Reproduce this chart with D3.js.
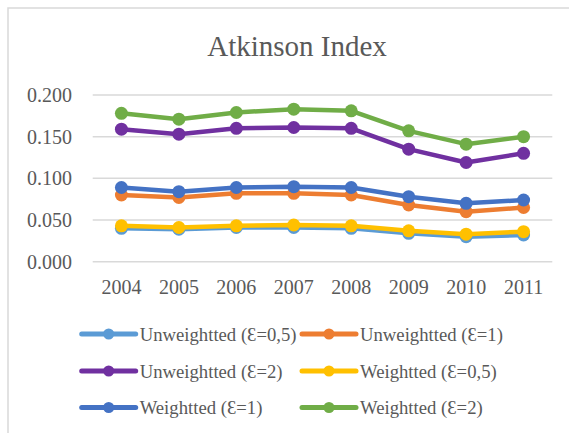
<!DOCTYPE html>
<html>
<head>
<meta charset="utf-8">
<script src="https://cdn.jsdelivr.net/npm/d3@7"></script>
</head>
<body style="margin:0;background:#fff">
<div id="chart"></div>
<script>
// Data
const years = ['2004', '2005', '2006', '2007', '2008', '2009', '2010', '2011'];
const seriesNames = [
  'Unweightted (Ɛ=0,5)', 'Unweightted (Ɛ=1)', 'Unweightted (Ɛ=2)',
  'Weightted (Ɛ=0,5)', 'Weightted (Ɛ=1)', 'Weightted (Ɛ=2)'
];
const unw05 = [0.040, 0.039, 0.041, 0.041, 0.040, 0.034, 0.030, 0.032];
const unw1  = [0.080, 0.077, 0.082, 0.082, 0.080, 0.068, 0.060, 0.065];
const unw2  = [0.159, 0.153, 0.160, 0.161, 0.160, 0.135, 0.119, 0.130];
const w05   = [0.043, 0.041, 0.043, 0.044, 0.043, 0.037, 0.033, 0.036];
const w1    = [0.089, 0.084, 0.089, 0.090, 0.089, 0.078, 0.070, 0.074];
const w2    = [0.178, 0.171, 0.179, 0.183, 0.181, 0.157, 0.141, 0.150];
const yTicks = [0, 0.05, 0.1, 0.15, 0.2];
const colors = ['#5B9BD5', '#ED7D31', '#7030A0', '#FFC000', '#4472C4', '#70AD47'];

const series = [unw05, unw1, unw2, w05, w1, w2].map((v, i) => ({
  name: seriesNames[i], values: v, color: colors[i]
}));

const FONT = '"Liberation Serif"';
const TEXT = '#595959';

const W = 569, H = 433;
const svg = d3.select('#chart').append('svg')
  .attr('width', W).attr('height', H);

// chart area border (runs off the right and bottom)
svg.append('rect')
  .attr('x', 8).attr('y', 8)
  .attr('width', 590).attr('height', 450)
  .attr('fill', 'none').attr('stroke', '#d9d9d9').attr('stroke-width', 1.5);

svg.append('text')
  .attr('x', 297).attr('y', 56)
  .attr('text-anchor', 'middle')
  .style('font-family', FONT)
  .style('font-size', '29px')
  .style('fill', TEXT)
  .text('Atkinson Index');

const x = d3.scaleBand().domain(years).range([92.7, 552.3]);
const y = d3.scaleLinear().domain([0, 0.2]).range([261.7, 95]);

// gridlines
svg.append('g').selectAll('line')
  .data(yTicks).enter().append('line')
  .attr('x1', 92.7).attr('x2', 552.3)
  .attr('y1', d => y(d)).attr('y2', d => y(d))
  .attr('stroke', '#d9d9d9').attr('stroke-width', 1.5);

// y axis labels
const yAxis = svg.append('g')
  .attr('transform', 'translate(72,0)')
  .call(d3.axisLeft(y).tickValues(yTicks).tickFormat(d3.format('.3f')).tickSize(0).tickPadding(0));
yAxis.select('.domain').remove();
yAxis.selectAll('text')
  .style('font-family', FONT).style('font-size', '20px').style('fill', TEXT);

// x axis labels
const xAxis = svg.append('g')
  .attr('transform', 'translate(0,280)')
  .call(d3.axisBottom(x).tickSize(0).tickPadding(0));
xAxis.select('.domain').remove();
xAxis.selectAll('text')
  .style('font-family', FONT).style('font-size', '20px').style('fill', TEXT);

const line = d3.line()
  .x((d, i) => x(years[i]) + x.bandwidth() / 2)
  .y(d => y(d));

const g = svg.append('g');
series.forEach(s => {
  g.append('path')
    .attr('d', line(s.values))
    .attr('fill', 'none')
    .attr('stroke', s.color)
    .attr('stroke-width', 4.5)
    .attr('stroke-linejoin', 'round');
  g.selectAll(null)
    .data(s.values).enter().append('circle')
    .attr('cx', (d, i) => x(years[i]) + x.bandwidth() / 2)
    .attr('cy', d => y(d))
    .attr('r', 6.5)
    .attr('fill', s.color);
});

// legend, 2 columns x 3 rows
const colX = [81.7, 302];
const rowY = [334, 371, 407.5];
const leg = svg.append('g');
series.forEach((s, i) => {
  const lx = colX[i % 2], ly = rowY[Math.floor(i / 2)];
  leg.append('line')
    .attr('x1', lx).attr('x2', lx + 54)
    .attr('y1', ly).attr('y2', ly)
    .attr('stroke', s.color).attr('stroke-width', 5)
    .attr('stroke-linecap', 'round');
  leg.append('circle')
    .attr('cx', lx + 27).attr('cy', ly).attr('r', 5.5)
    .attr('fill', s.color);
  leg.append('text')
    .attr('x', lx + 58).attr('y', ly)
    .attr('dy', '0.35em')
    .style('font-family', FONT)
    .style('font-size', '18.7px')
    .style('fill', TEXT)
    .text(s.name);
});
</script>
</body>
</html>
